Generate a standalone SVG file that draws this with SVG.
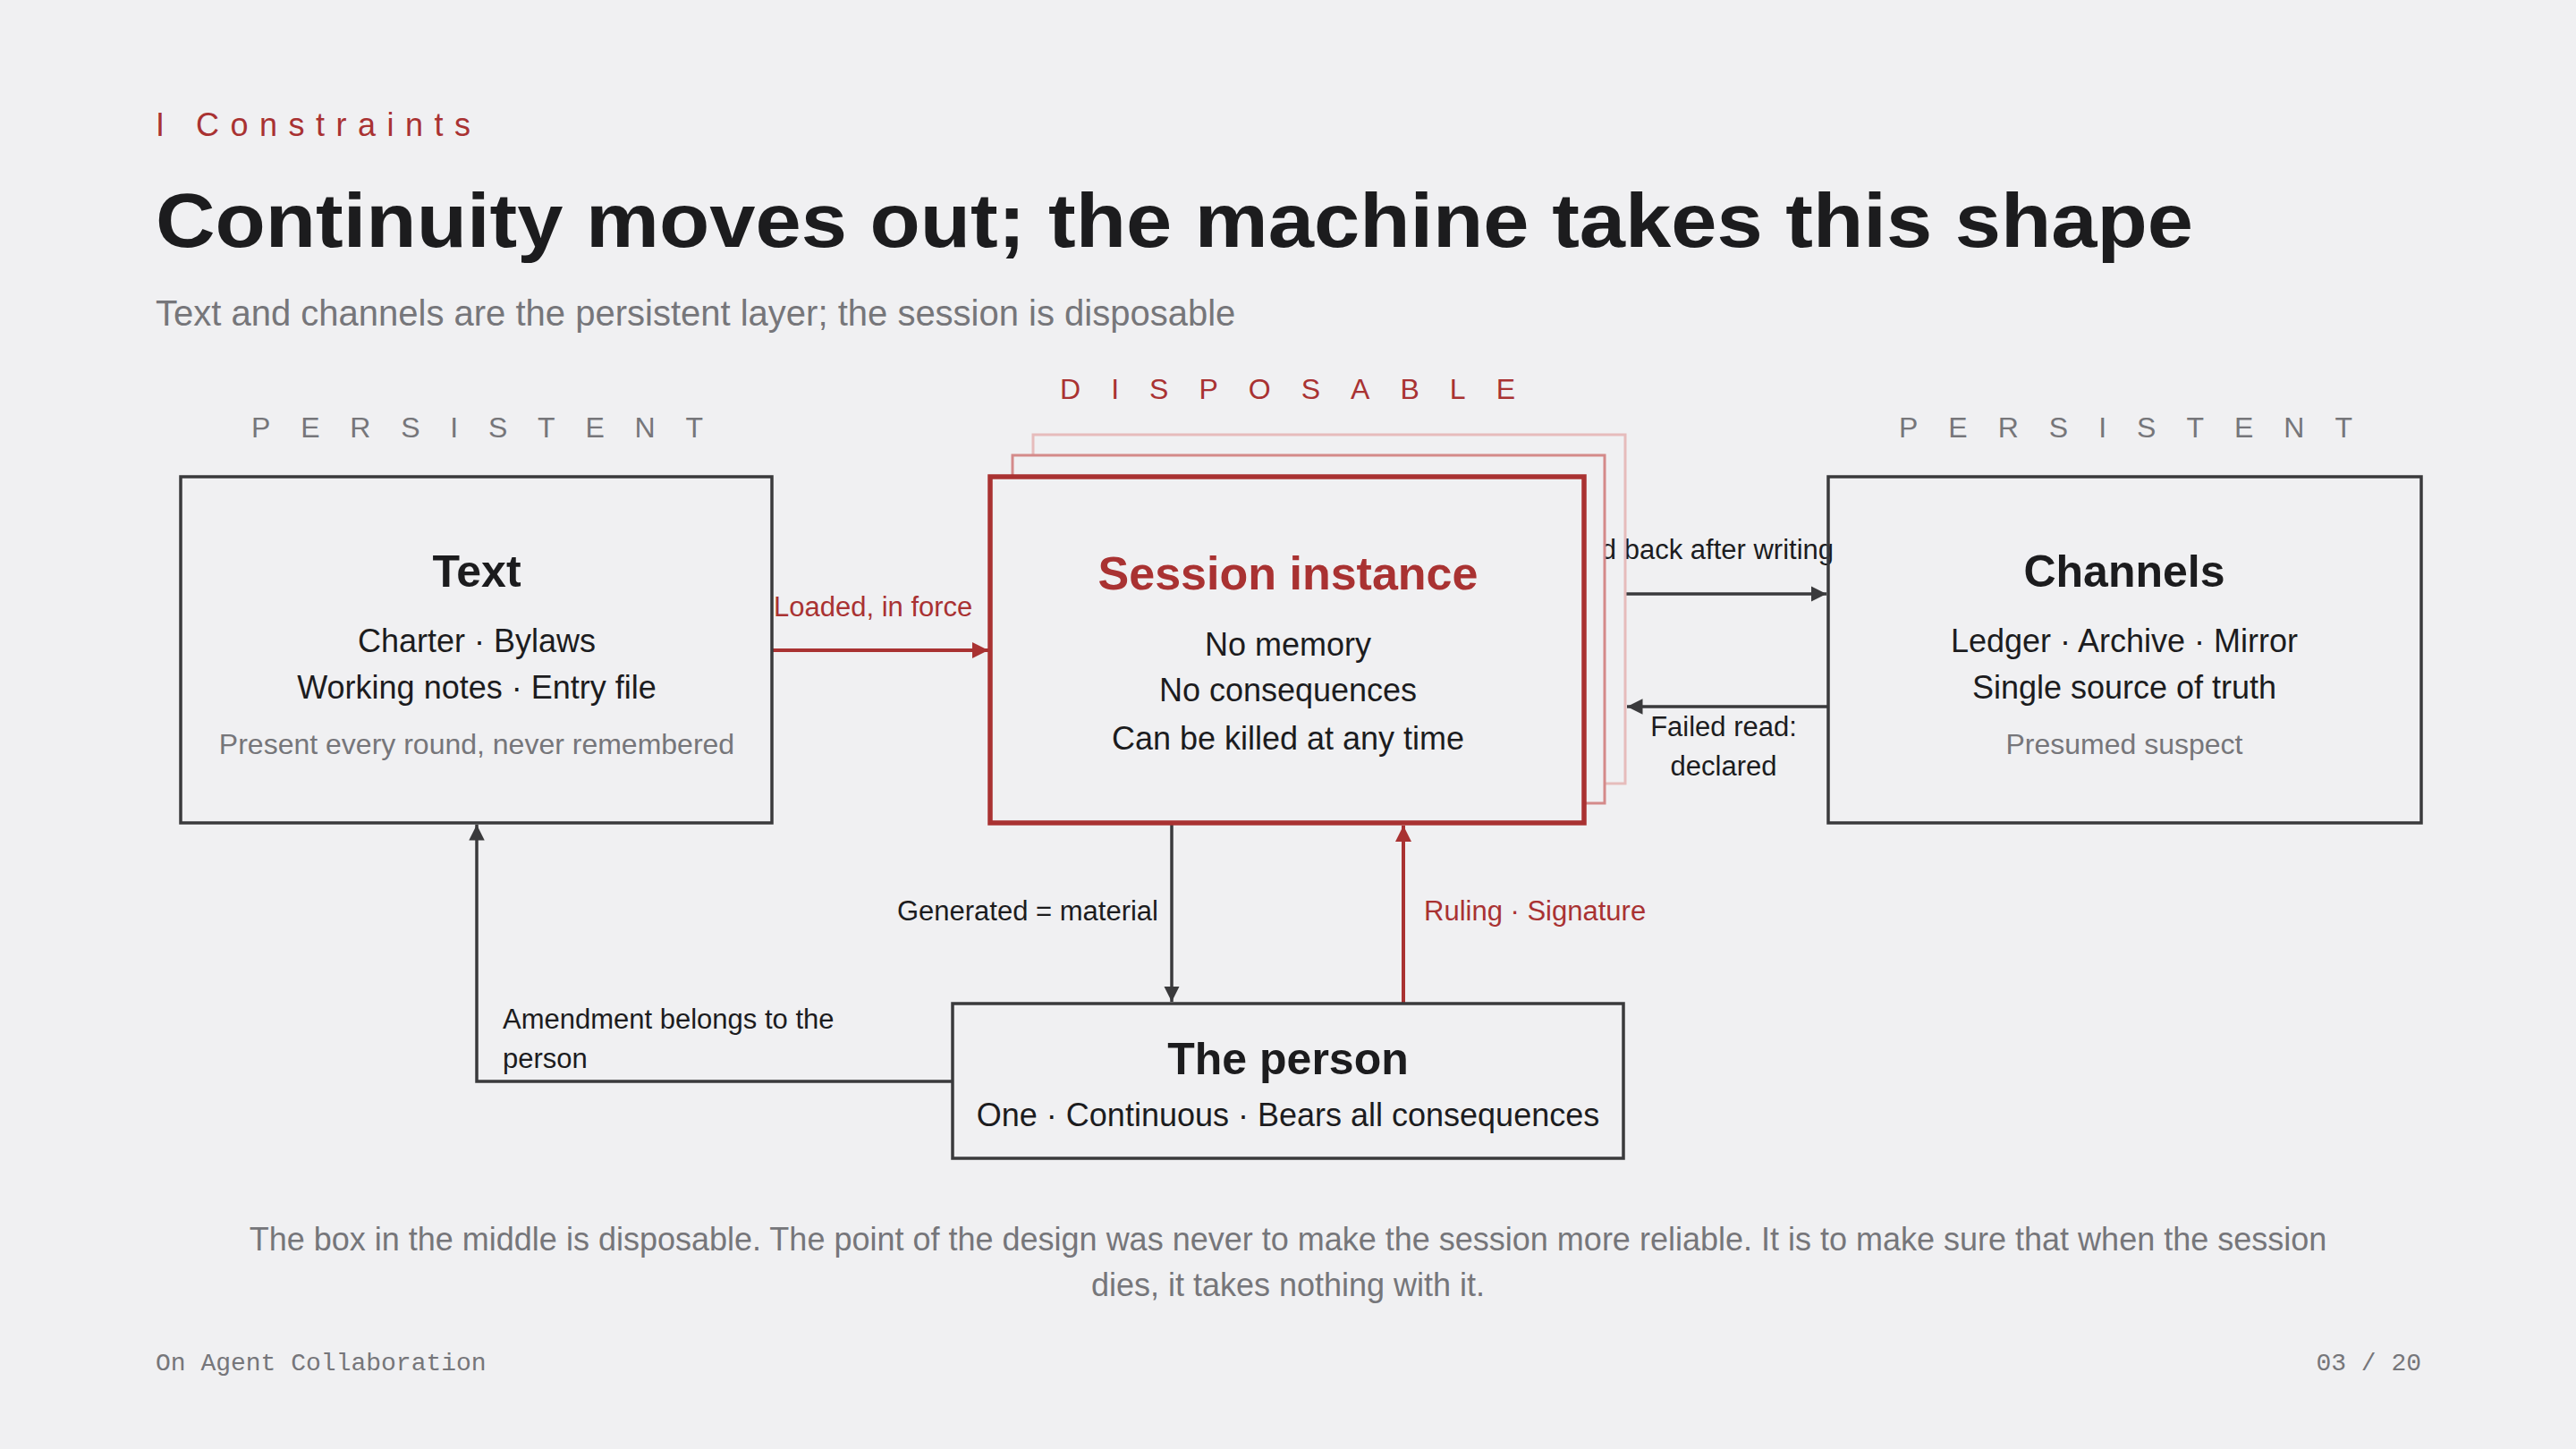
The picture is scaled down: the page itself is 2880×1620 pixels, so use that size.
<svg xmlns="http://www.w3.org/2000/svg" width="2880" height="1620" viewBox="0 0 2880 1620">
<defs>
<style>
text{font-family:"Liberation Sans",Arial,sans-serif}
.t{fill:#1c1c1e}
.g{fill:#76767a}
.r{fill:#a93232}
.mid{text-anchor:middle}
.box{fill:none;stroke:#3a3a3c;stroke-width:3.5}
.h{font-size:50px;font-weight:bold}
.b{font-size:36px}
.s{font-size:32px}
.lbl{font-size:31px}
.cap{font-size:32px}
</style>
<marker id="ad" viewBox="0 0 10 10" refX="10" refY="5" markerWidth="5" markerHeight="5" orient="auto"><path d="M0,0L10,5L0,10z" fill="#3a3a3c"/></marker>
<marker id="ar" viewBox="0 0 10 10" refX="10" refY="5" markerWidth="4.5" markerHeight="4.5" orient="auto"><path d="M0,0L10,5L0,10z" fill="#a93232"/></marker>
</defs>
<rect width="2880" height="1620" fill="#f0f0f2"/>
<text x="174" y="152" class="r" font-size="36" textLength="352" lengthAdjust="spacing">I   Constraints</text>
<text x="174" y="276" class="t" font-size="86" font-weight="bold" textLength="2278" lengthAdjust="spacingAndGlyphs">Continuity moves out; the machine takes this shape</text>
<text x="174" y="364" class="g" font-size="40">Text and channels are the persistent layer; the session is disposable</text>
<text x="281" y="489" class="g cap" textLength="505" lengthAdjust="spacing">PERSISTENT</text>
<text x="1185" y="446" class="r cap" textLength="509" lengthAdjust="spacing">DISPOSABLE</text>
<text x="2123" y="489" class="g cap" textLength="507" lengthAdjust="spacing">PERSISTENT</text>

<g id="connectors">
<line x1="863" y1="727" x2="1105" y2="727" stroke="#a93232" stroke-width="4" marker-end="url(#ar)"/>
<text x="865" y="689" class="r lbl">Loaded, in force</text>
<line x1="1817" y1="664" x2="2042" y2="664" stroke="#3a3a3c" stroke-width="3.5" marker-end="url(#ad)"/>
<text x="1733" y="625" class="t lbl" fill="#333">Read back after writing</text>
<line x1="2044" y1="790" x2="1819" y2="790" stroke="#3a3a3c" stroke-width="3.5" marker-end="url(#ad)"/>
<text x="1927" y="823" class="t lbl mid">Failed read:</text>
<text x="1927" y="867" class="t lbl mid">declared</text>
<line x1="1310" y1="920" x2="1310" y2="1120" stroke="#3a3a3c" stroke-width="3.5" marker-end="url(#ad)"/>
<text x="1295" y="1029" class="t lbl" text-anchor="end">Generated = material</text>
<line x1="1569" y1="1122" x2="1569" y2="923" stroke="#a93232" stroke-width="4" marker-end="url(#ar)"/>
<text x="1592" y="1029" class="r lbl">Ruling · Signature</text>
<polyline points="1065,1209 533,1209 533,922" fill="none" stroke="#3a3a3c" stroke-width="3.5" marker-end="url(#ad)"/>
<text x="562" y="1150" class="t lbl">Amendment belongs to the</text>
<text x="562" y="1194" class="t lbl">person</text>
</g>

<g id="text-node">
<rect x="202" y="533" width="661" height="387" class="box"/>
<text x="533" y="656" class="t h mid">Text</text>
<text x="533" y="729" class="t b mid">Charter · Bylaws</text>
<text x="533" y="781" class="t b mid">Working notes · Entry file</text>
<text x="533" y="843" class="g s mid">Present every round, never remembered</text>
</g>

<g id="session-node">
<rect x="1155" y="486" width="662" height="390" fill="none" stroke="#e6bcbc" stroke-width="3"/>
<rect x="1132" y="509" width="662" height="389" fill="#f0f0f2" stroke="#d48a8a" stroke-width="3"/>
<rect x="1107" y="533" width="664" height="387" fill="#f0f0f2" stroke="#a93232" stroke-width="5.5"/>
<text x="1440" y="659" class="r mid" font-size="52" font-weight="bold">Session instance</text>
<text x="1440" y="733" class="t b mid">No memory</text>
<text x="1440" y="784" class="t b mid">No consequences</text>
<text x="1440" y="838" class="t b mid">Can be killed at any time</text>
</g>

<g id="channels-node">
<rect x="2044" y="533" width="663" height="387" class="box"/>
<text x="2375" y="656" class="t h mid">Channels</text>
<text x="2375" y="729" class="t b mid">Ledger · Archive · Mirror</text>
<text x="2375" y="781" class="t b mid">Single source of truth</text>
<text x="2375" y="843" class="g s mid">Presumed suspect</text>
</g>

<g id="person-node">
<rect x="1065" y="1122" width="750" height="173" class="box"/>
<text x="1440" y="1201" class="t h mid" font-size="52">The person</text>
<text x="1440" y="1259" class="t b mid">One · Continuous · Bears all consequences</text>
</g>

<text x="1440" y="1398" class="g mid" font-size="36">The box in the middle is disposable. The point of the design was never to make the session more reliable. It is to make sure that when the session</text>
<text x="1440" y="1449" class="g mid" font-size="36">dies, it takes nothing with it.</text>
<text x="174" y="1532" class="g" font-size="28" style="font-family:'Liberation Mono','DejaVu Sans Mono',monospace">On Agent Collaboration</text>
<text x="2707" y="1532" class="g" font-size="28" text-anchor="end" style="font-family:'Liberation Mono','DejaVu Sans Mono',monospace">03 / 20</text>
</svg>
